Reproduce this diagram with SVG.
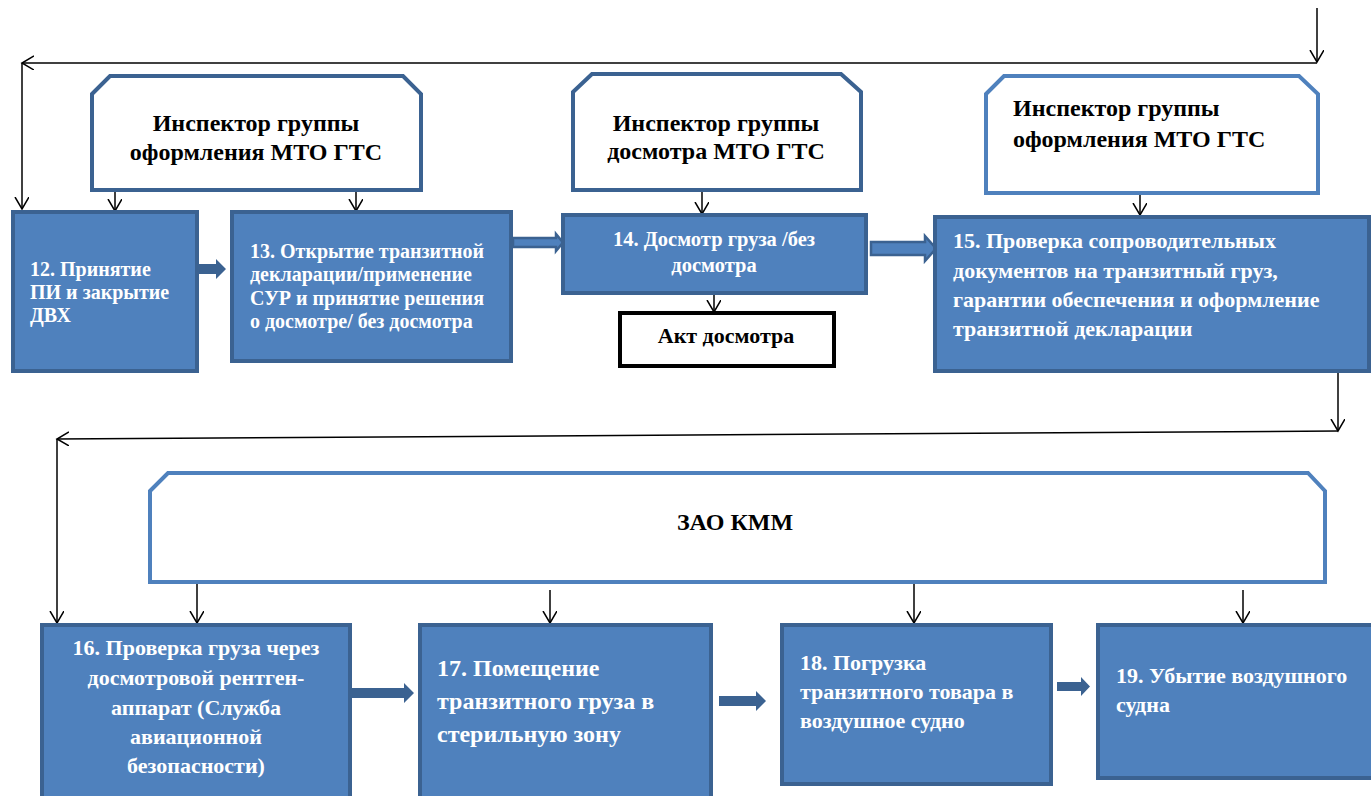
<svg xmlns="http://www.w3.org/2000/svg" width="1371" height="796" viewBox="0 0 1371 796">
<style>
.t{font-family:'Liberation Serif','Times New Roman',serif;font-weight:700}
.w{fill:#ffffff}
.k{fill:#000000}
.box{fill:#4f81bd;stroke:#3b6291;stroke-width:4}
.hdr{fill:#ffffff;stroke:#3b6291;stroke-width:4}
.hdrl{fill:#ffffff;stroke:#4f81bd;stroke-width:4}
.ln{fill:none;stroke:#000000;stroke-width:1.5}
.ba{fill:#3b6291;stroke:none}
.bo{fill:#4f81bd;stroke:#3b6291;stroke-width:2.5}
</style>
<defs>
<marker id="v" markerUnits="userSpaceOnUse" markerWidth="16" markerHeight="16" refX="12" refY="7" orient="auto">
<path d="M0,0 L12,7 L0,14" fill="none" stroke="#000" stroke-width="1.5"/>
</marker>
</defs>
<rect width="1371" height="796" fill="#ffffff"/>

<g id="connectors">
<path class="ln" d="M1317,8 V62" marker-end="url(#v)"/>
<path class="ln" d="M1317,63 H22" marker-end="url(#v)"/>
<path class="ln" d="M22,63 V209" marker-end="url(#v)"/>
<path class="ln" d="M115,191 V211" marker-end="url(#v)"/>
<path class="ln" d="M356,191 V211" marker-end="url(#v)"/>
<path class="ln" d="M702,191 V214" marker-end="url(#v)"/>
<path class="ln" d="M714,294 V312" marker-end="url(#v)"/>
<path class="ln" d="M1140,194 V215" marker-end="url(#v)"/>
<path class="ln" d="M1338,371 V431" marker-end="url(#v)"/>
<path class="ln" d="M1338,431 L57,439" marker-end="url(#v)"/>
<path class="ln" d="M57,439 V623" marker-end="url(#v)"/>
<path class="ln" d="M197,584 V623" marker-end="url(#v)"/>
<path class="ln" d="M550,590 V623" marker-end="url(#v)"/>
<path class="ln" d="M914,584 V623" marker-end="url(#v)"/>
<path class="ln" d="M1243,590 V623" marker-end="url(#v)"/>
<polygon class="ba" points="198,264 216,264 216,259 226,269 216,279 216,274 198,274"/>
<polygon class="bo" points="513,238 556,238 556,234 563,242.5 556,251 556,247 513,247"/>
<polygon class="bo" points="871,242 925,242 925,236 936,248.5 925,261 925,255 871,255"/>
<polygon class="ba" points="351,688 404,688 404,683 414,693 404,703 404,698 351,698"/>
<polygon class="ba" points="719,696 756,696 756,691 766,701 756,711 756,706 719,706"/>
<polygon class="ba" points="1057,682 1081,682 1081,677 1090,686.5 1081,696 1081,691 1057,691"/>
</g>

<g id="insp1">
<path class="hdr" d="M92,94 L110,76 H403 L421,94 V190 H92 Z"/>
<text class="t k" font-size="24" text-anchor="middle" x="256" y="131">Инспектор группы</text>
<text class="t k" font-size="24" text-anchor="middle" x="256" y="160">оформления МТО ГТС</text>
</g>

<g id="insp2">
<path class="hdr" d="M573,92 L592,74 H841 L861,92 V190 H573 Z"/>
<text class="t k" font-size="24" text-anchor="middle" x="716" y="131">Инспектор группы</text>
<text class="t k" font-size="24" text-anchor="middle" x="716" y="159">досмотра МТО ГТС</text>
</g>

<g id="insp3">
<path class="hdrl" d="M986,94 L1004,76 H1299 L1318,94 V193 H986 Z"/>
<text class="t k" font-size="24" x="1013" y="116">Инспектор группы</text>
<text class="t k" font-size="24" x="1013" y="147">оформления МТО ГТС</text>
</g>

<g id="n12">
<rect class="box" x="13" y="212" width="184" height="159"/>
<text class="t w" font-size="20" x="30" y="276">12. Принятие</text>
<text class="t w" font-size="20" x="30" y="299">ПИ и закрытие</text>
<text class="t w" font-size="20" x="30" y="322">ДВХ</text>
</g>

<g id="n13">
<rect class="box" x="232" y="212" width="279" height="149"/>
<text class="t w" font-size="20" x="250" y="258">13. Открытие транзитной</text>
<text class="t w" font-size="20" x="250" y="281">декларации/применение</text>
<text class="t w" font-size="20" x="250" y="305">СУР и принятие решения</text>
<text class="t w" font-size="20" x="250" y="328">о досмотре/ без досмотра</text>
</g>

<g id="n14">
<rect class="box" x="563" y="215" width="303" height="78"/>
<text class="t w" font-size="20.5" text-anchor="middle" x="714" y="246">14. Досмотр груза /без</text>
<text class="t w" font-size="20.5" text-anchor="middle" x="714" y="272">досмотра</text>
</g>

<g id="akt">
<rect x="620" y="313" width="214" height="53" fill="#ffffff" stroke="#000000" stroke-width="4"/>
<text class="t k" font-size="22" text-anchor="middle" x="726" y="343">Акт досмотра</text>
</g>

<g id="n15">
<rect class="box" x="935" y="217" width="434" height="154"/>
<text class="t w" font-size="22" x="953" y="248">15. Проверка сопроводительных</text>
<text class="t w" font-size="22" x="953" y="278">документов на транзитный груз,</text>
<text class="t w" font-size="22" x="953" y="307">гарантии обеспечения и оформление</text>
<text class="t w" font-size="22" x="953" y="336">транзитной декларации</text>
</g>

<g id="zao">
<path class="hdrl" d="M150,491 L168,473 H1308 L1325,491 V582 H150 Z"/>
<text class="t k" font-size="24" text-anchor="middle" x="735" y="530">ЗАО КММ</text>
</g>

<g id="n16">
<rect class="box" x="42" y="625" width="308" height="180"/>
<text class="t w" font-size="22" text-anchor="middle" x="196" y="655">16. Проверка груза через</text>
<text class="t w" font-size="22" text-anchor="middle" x="196" y="685">досмотровой рентген-</text>
<text class="t w" font-size="22" text-anchor="middle" x="196" y="715">аппарат (Служба</text>
<text class="t w" font-size="22" text-anchor="middle" x="196" y="744">авиационной</text>
<text class="t w" font-size="22" text-anchor="middle" x="196" y="773">безопасности)</text>
</g>

<g id="n17">
<rect class="box" x="420" y="625" width="291" height="180"/>
<text class="t w" font-size="24" x="437" y="676">17. Помещение</text>
<text class="t w" font-size="24" x="437" y="709">транзитного груза в</text>
<text class="t w" font-size="24" x="437" y="742">стерильную зону</text>
</g>

<g id="n18">
<rect class="box" x="782" y="625" width="269" height="159"/>
<text class="t w" font-size="22" x="800" y="670">18. Погрузка</text>
<text class="t w" font-size="22" x="800" y="699">транзитного товара в</text>
<text class="t w" font-size="22" x="800" y="728">воздушное судно</text>
</g>

<g id="n19">
<rect class="box" x="1098" y="625" width="280" height="153"/>
<text class="t w" font-size="22" x="1116" y="683">19. Убытие воздушного</text>
<text class="t w" font-size="22" x="1116" y="712">судна</text>
</g>
</svg>
